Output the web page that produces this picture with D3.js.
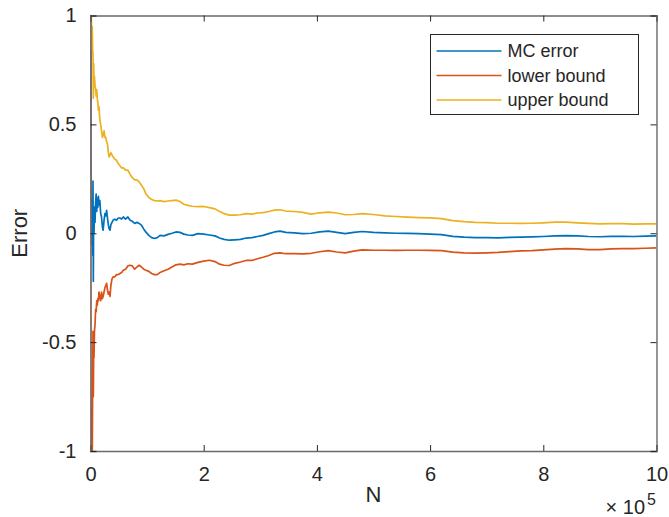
<!DOCTYPE html>
<html>
<head>
<meta charset="utf-8">
<script src="https://cdn.jsdelivr.net/npm/d3@7"></script>
<style>
  body { margin: 0; background: #fff; }
  svg { font-family: "Liberation Sans", Arial, Helvetica, sans-serif; }
</style>
</head>
<body>
<svg id="chart"></svg>
<script>
// sample sizes N
const nValues = [100, 300, 600, 900, 1300, 1800, 2300, 3000, 3800, 4400, 5000, 5600, 6200, 7000, 8000, 9000,
  10000, 11000, 12000, 13000, 14000, 15000, 16500, 18000, 19500, 21000, 22300, 24000, 25500, 27000, 28500,
  30000, 31500, 33000, 34500, 36000, 38000, 40000, 43000, 46000, 49000, 52000, 55000, 58000, 62000, 66000,
  70000, 74000, 78000, 82000, 86000, 90000, 94000, 98000, 103000, 108000, 113000, 118000, 123000, 130000,
  137000, 144000, 151000, 158000, 165000, 172000, 180000, 190000, 200000, 210000, 220000, 228000, 236000,
  245000, 255000, 265000, 275000, 285000, 295000, 305000, 315000, 325000, 335000, 345000, 360000, 375000,
  390000, 405000, 420000, 435000, 450000, 465000, 480000, 500000, 520000, 540000, 560000, 580000, 600000,
  620000, 640000, 660000, 680000, 700000, 720000, 740000, 760000, 780000, 800000, 820000, 840000, 860000,
  880000, 900000, 920000, 940000, 960000, 980000, 1000000];

const mcError = [3.0, 1.2, 0.35, 0.1, 0.05, -0.05, 0.05, 0.15, -0.1, 0.24, -0.22, 0.1, 0.0, 0.12, 0.05, 0.14,
  0.18, 0.1, 0.16, 0.12, 0.17, 0.13, 0.15, 0.09, 0.075, 0.03, 0.014, 0.06, 0.09, 0.08, 0.105,
  0.07, 0.04, 0.02, 0.014, 0.04, 0.05, 0.06, 0.065, 0.06, 0.07, 0.07, 0.065, 0.075, 0.065, 0.075,
  0.06, 0.055, 0.045, 0.05, 0.045, 0.037, 0.02, 0.005, -0.01, -0.02, -0.024, -0.02, -0.01, -0.012,
  -0.005, 0.0, 0.006, 0.004, -0.004, -0.008, -0.01, -0.002, -0.004, -0.008, -0.012, -0.022, -0.028,
  -0.032, -0.03, -0.028, -0.022, -0.02, -0.015, -0.01, -0.002, 0.006, 0.01, 0.004, 0.002, -0.002,
  0.0, 0.006, 0.01, 0.004, -0.002, 0.004, 0.008, 0.004, 0.002, 0.0, -0.001, -0.002, -0.004,
  -0.006, -0.014, -0.018, -0.02, -0.02, -0.021, -0.019, -0.018, -0.017, -0.015, -0.012, -0.011, -0.012,
  -0.015, -0.016, -0.014, -0.014, -0.015, -0.013, -0.012];

const lowerBound = [1.5, -0.6, -1.4, -1.3, -1.1, -0.95, -0.8, -1.1, -0.7, -0.45, -0.75, -0.55, -0.57, -0.45, -0.42, -0.35,
  -0.36, -0.31, -0.33, -0.3, -0.31, -0.27, -0.29, -0.31, -0.27, -0.3, -0.29, -0.27, -0.25, -0.24, -0.23,
  -0.26, -0.28, -0.27, -0.29, -0.24, -0.21, -0.2, -0.2, -0.19, -0.19, -0.185, -0.18, -0.17, -0.165, -0.15,
  -0.147, -0.15, -0.165, -0.155, -0.147, -0.155, -0.165, -0.17, -0.175, -0.185, -0.19, -0.19, -0.18, -0.172,
  -0.165, -0.155, -0.145, -0.142, -0.145, -0.14, -0.142, -0.134, -0.128, -0.124, -0.13, -0.142, -0.147,
  -0.148, -0.138, -0.132, -0.125, -0.125, -0.117, -0.11, -0.102, -0.092, -0.09, -0.094, -0.094, -0.095,
  -0.092, -0.085, -0.08, -0.086, -0.09, -0.082, -0.076, -0.078, -0.078, -0.079, -0.078, -0.078, -0.079,
  -0.08, -0.087, -0.09, -0.091, -0.09, -0.088, -0.084, -0.081, -0.08, -0.076, -0.073, -0.071, -0.072,
  -0.075, -0.075, -0.072, -0.071, -0.071, -0.069, -0.067];

const upperBound = [4.5, 3.0, 2.1, 1.5, 1.2, 0.85, 0.9, 0.95, 0.84, 0.82, 0.62, 0.78, 0.7, 0.72, 0.68, 0.66,
  0.63, 0.66, 0.62, 0.6, 0.565, 0.58, 0.52, 0.5, 0.47, 0.44, 0.45, 0.47, 0.44, 0.44, 0.42,
  0.41, 0.37, 0.35, 0.36, 0.37, 0.36, 0.35, 0.34, 0.335, 0.32, 0.31, 0.3, 0.3, 0.29, 0.29,
  0.27, 0.255, 0.245, 0.245, 0.236, 0.22, 0.205, 0.18, 0.165, 0.155, 0.15, 0.148, 0.15, 0.145,
  0.148, 0.15, 0.152, 0.146, 0.133, 0.128, 0.124, 0.122, 0.123, 0.118, 0.112, 0.1, 0.09,
  0.083, 0.083, 0.085, 0.09, 0.088, 0.093, 0.095, 0.1, 0.106, 0.108, 0.102, 0.1, 0.096,
  0.088, 0.094, 0.097, 0.093, 0.085, 0.086, 0.09, 0.086, 0.08, 0.077, 0.074, 0.072, 0.071,
  0.067, 0.058, 0.053, 0.05, 0.049, 0.046, 0.046, 0.045, 0.046, 0.048, 0.051, 0.051, 0.048,
  0.045, 0.043, 0.044, 0.044, 0.042, 0.043, 0.043];

const xTicks = [0, 200000, 400000, 600000, 800000, 1000000];
const yTicks = [-1, -0.5, 0, 0.5, 1];
const seriesNames = ['MC error', 'lower bound', 'upper bound'];
const seriesColors = ['#0072BD', '#D95319', '#EDB120'];

const W = 669, H = 517;
const margin = {top: 15.5, right: 12.5, bottom: 66, left: 90.5};
const width = W - margin.left - margin.right;
const height = H - margin.top - margin.bottom;
const textColor = '#262626';
const axisColor = '#6a6a6a';

const svg = d3.select('#chart')
  .attr('width', W)
  .attr('height', H);

const x = d3.scaleLinear().domain([0, 1000000]).range([0, width]);
const y = d3.scaleLinear().domain([-1, 1]).range([height, 0]);

const g = svg.append('g')
  .attr('transform', `translate(${margin.left}, ${margin.top})`);

g.append('clipPath').attr('id', 'plot-clip')
  .append('rect').attr('width', width).attr('height', height);

const series = [mcError, lowerBound, upperBound];
const line = d3.line()
  .x((d, i) => x(nValues[i]))
  .y(d => y(d));

g.append('g').attr('clip-path', 'url(#plot-clip)')
  .selectAll('path')
  .data(series)
  .join('path')
  .attr('d', line)
  .attr('fill', 'none')
  .attr('stroke', (d, i) => seriesColors[i])
  .attr('stroke-width', 1.7)
  .attr('stroke-linejoin', 'round');

// axes, ticks inside on all four sides
const tickLen = 6;
const fmtX = d => d3.format('d')(d / 100000);
const fmtY = d => d === 0 ? '0' : String(d);

g.append('g')
  .attr('transform', `translate(0, ${height})`)
  .call(d3.axisBottom(x).tickValues(xTicks).tickSize(-tickLen).tickPadding(16).tickFormat(fmtX));
g.append('g')
  .call(d3.axisTop(x).tickValues(xTicks).tickSize(-tickLen).tickFormat(''));
g.append('g')
  .call(d3.axisLeft(y).tickValues(yTicks).tickSize(-tickLen).tickPadding(14).tickFormat(fmtY));
g.append('g')
  .attr('transform', `translate(${width}, 0)`)
  .call(d3.axisRight(y).tickValues(yTicks).tickSize(-tickLen).tickFormat(''));

g.selectAll('.domain').attr('stroke', axisColor).attr('stroke-width', 1.4);
g.selectAll('.tick line').attr('stroke', textColor).attr('stroke-width', 1);
g.selectAll('.tick text')
  .attr('fill', textColor)
  .style('font-size', '20px')
  .style('font-family', '"Liberation Sans", Arial, sans-serif');

// axis labels
svg.append('text')
  .attr('x', margin.left + width / 2)
  .attr('y', 502)
  .attr('text-anchor', 'middle')
  .attr('fill', textColor)
  .style('font-size', '22px')
  .text('N');

svg.append('text')
  .attr('transform', `translate(27, ${margin.top + height / 2}) rotate(-90)`)
  .attr('text-anchor', 'middle')
  .attr('fill', textColor)
  .style('font-size', '22px')
  .text('Error');

// exponent label
const expo = svg.append('text')
  .attr('x', 656)
  .attr('y', 514)
  .attr('text-anchor', 'end')
  .attr('fill', textColor)
  .style('font-size', '20px');
expo.append('tspan').text('\u00d7 10');
expo.append('tspan').attr('dy', -9).attr('dx', 2).style('font-size', '16px').text('5');

// legend
const legend = svg.append('g').attr('transform', 'translate(430.5, 34.5)');
legend.append('rect')
  .attr('width', 208)
  .attr('height', 80)
  .attr('fill', '#fff')
  .attr('stroke', textColor)
  .attr('stroke-width', 1);

const rows = legend.selectAll('g.row')
  .data(seriesNames)
  .join('g')
  .attr('class', 'row')
  .attr('transform', (d, i) => `translate(0, ${16.5 + i * 24.5})`);
rows.append('line')
  .attr('x1', 6).attr('x2', 71)
  .attr('stroke', (d, i) => seriesColors[i])
  .attr('stroke-width', 1.6);
rows.append('text')
  .attr('x', 77)
  .attr('dy', '0.35em')
  .attr('fill', textColor)
  .style('font-size', '18px')
  .text(d => d);
</script>
</body>
</html>
